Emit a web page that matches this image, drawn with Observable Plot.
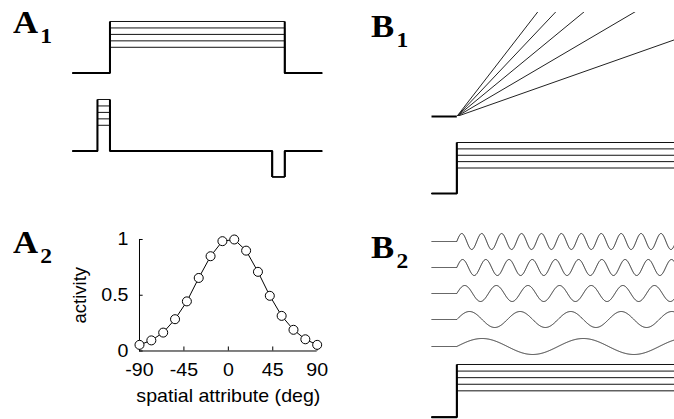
<!DOCTYPE html>
<html><head><meta charset="utf-8">
<script src="https://cdn.jsdelivr.net/npm/d3@7"></script>
<script src="https://cdn.jsdelivr.net/npm/@observablehq/plot@0.6"></script>
<style>
html,body{margin:0;padding:0;background:#fff;overflow:hidden}
#fig{position:relative;width:674px;height:419px;overflow:hidden;background:#fff}
#fig svg{position:absolute;overflow:visible}
.lab{position:absolute;font:bold 31px "Liberation Serif","Times New Roman",serif;line-height:31px;transform:scaleX(1.12);transform-origin:0 0;color:#000;white-space:nowrap}
.lab span{font-size:21px;position:relative;top:10px;margin-left:2px}
</style></head><body>
<div id="fig">
  <div class="lab" style="left:13px;top:7px">A<span>1</span></div>
  <div class="lab" style="left:371px;top:11px">B<span>1</span></div>
  <div class="lab" style="left:13px;top:227px">A<span>2</span></div>
  <div class="lab" style="left:371px;top:232px">B<span>2</span></div>
</div>
<script>
// ---------------- data ----------------
// input amplitude levels (arbitrary units) used for the stepped inputs
const stepLevels = [4, 5, 6, 7, 8];
// A1 sustained input: start, onset, offset, end (ms)
const a1Sustained = [0, 150, 850, 1000];
// A1 transient input: start, on-burst start, on-burst end, off-dip start, off-dip end, end (ms)
const a1Transient = [0, 100, 150, 800, 850, 1000];
const a1OffDip = -4;
// A2 tuning curve
const angles   = [-90, -78, -66, -54, -42, -30, -18, -6, 6, 18, 30, 42, 54, 66, 78, 90];
const activity = [0.055, 0.095, 0.165, 0.285, 0.445, 0.655, 0.85, 0.985, 1.0, 0.9, 0.71, 0.495, 0.315, 0.19, 0.105, 0.055];
const xTicks = [-90, -45, 0, 45, 90];
const yTicks = [0, 0.5, 1];
// B panels: start, onset, end (ms)
const bTimes = [0, 100, 1000];
// B1 ramp rates (units / s)
const rampRates = [3, 5, 7, 9, 11];
// B2 oscillation frequencies (Hz), top to bottom
const waveFreqs = [12.7, 10.9, 8, 5, 2.5];

// ---------------- helpers ----------------
const fig = document.getElementById("fig");
const INK = "#111";
function panel(px, py, xd, yd, marks) {
  // px: [left, right] pixels for xd; py: [bottom, top] pixels for yd
  const width = px[1] - px[0], height = py[0] - py[1];
  const svg = Plot.plot({
    width, height, margin: 0,
    x: {domain: xd, range: [0, width], axis: null},
    y: {domain: yd, range: [height, 0], axis: null},
    style: {background: "none", overflow: "visible"},
    marks
  });
  svg.style.left = px[0] + "px";
  svg.style.top = py[1] + "px";
  fig.append(svg);
  return svg;
}
const toRows = (pts, key, k) => pts.map(([t, v]) => ({t, v, [key]: k}));
const lineOpts = (z, w, extra = {}) => ({x: "t", y: "v", z, stroke: INK, strokeWidth: w, strokeLinejoin: "miter", strokeLinecap: "butt", ...extra});
const Lmax = d3.max(stepLevels);

// ---------------- A1 top: sustained steps ----------------
{
  const [s0, on, off, end] = a1Sustained;
  const lines = stepLevels.flatMap(L => toRows([[s0,0],[on,0],[on,L],[off,L],[off,0],[end,0]], "L", L));
  const env = [[[s0,0],[on,0],[on,Lmax]], [[off,Lmax],[off,0],[end,0]]].flatMap((s,i) => toRows(s, "L", i));
  panel([72, 321.7], [72.3, 20.7], [0, 1000], [0, 8], [
    Plot.line(lines, lineOpts("L", 1)),
    Plot.line(env, lineOpts("L", 2, {stroke: "#000"}))
  ]);
}
// ---------------- A1 bottom: transient input ----------------
{
  const [s0, p0, p1, d0, d1, end] = a1Transient;
  const lines = stepLevels.flatMap(L => toRows([[s0,0],[p0,0],[p0,L],[p1,L],[p1,0],[d0,0],[d0,a1OffDip],[d1,a1OffDip],[d1,0],[end,0]], "L", L));
  const env = [[[s0,0],[p0,0],[p0,Lmax]], [[p1,Lmax],[p1,0],[d0,0],[d0,a1OffDip]], [[d1,a1OffDip],[d1,0],[end,0]]].flatMap((s,i) => toRows(s, "L", i));
  panel([72, 321.7], [151, 99.4], [0, 1000], [0, 8], [
    Plot.line(lines, lineOpts("L", 1)),
    Plot.line(env, lineOpts("L", 2, {stroke: "#000"}))
  ]);
}
// ---------------- A2: tuning curve ----------------
{
  const pts = angles.map((a, i) => ({a, v: activity[i]}));
  const fx = [139, 316.7], fy = [350.5, 239];
  const ml = 75, mr = 15, mt = 12, mb = 58;
  const svg = Plot.plot({
    width: ml + fx[1] - fx[0] + mr, height: mt + fy[0] - fy[1] + mb,
    marginLeft: ml, marginRight: mr, marginTop: mt, marginBottom: mb,
    x: {domain: [xTicks[0], xTicks.at(-1)]},
    y: {domain: [yTicks[0], yTicks.at(-1)]},
    style: {background: "none", overflow: "visible", fontFamily: "'Liberation Sans', Arial, sans-serif", fontSize: "17.5px", color: "#000"},
    marks: [
      Plot.ruleX([xTicks[0]], {y1: yTicks[0], y2: yTicks.at(-1), stroke: "#000", strokeWidth: 1}),
      Plot.ruleY([yTicks[0]], {x1: xTicks[0], x2: xTicks.at(-1), stroke: "#000", strokeWidth: 1}),
      Plot.ruleX(xTicks, {y1: 0, y2: 0.036, stroke: "#000", strokeWidth: 1}),
      Plot.ruleY(yTicks, {x1: -90, x2: -86.3, stroke: "#000", strokeWidth: 1}),
      Plot.axisX({ticks: xTicks, tickFormat: String, tickSize: 0, tickPadding: 12.5, fontSize: 17.5,
        label: "spatial attribute (deg)", labelAnchor: "center", labelArrow: "none", labelOffset: 51}),
      Plot.axisY({ticks: yTicks, tickFormat: String, tickSize: 0, tickPadding: 11, fontSize: 17.5,
        label: "activity", labelAnchor: "center", labelArrow: "none", labelOffset: 66}),
      Plot.line(pts, {x: "a", y: "v", stroke: "#000", strokeWidth: 1}),
      Plot.dot(pts, {x: "a", y: "v", r: 4.5, fill: "#fff", stroke: "#000", strokeWidth: 1})
    ]
  });
  svg.style.left = (fx[0] - ml) + "px";
  svg.style.top = (fy[1] - mt) + "px";
  fig.append(svg);
  svg.querySelectorAll("text").forEach(t => {
    const isRot = (t.getAttribute("transform") || "").includes("rotate");
    const len = t.getComputedTextLength();
    if (len > 0) {
      t.setAttribute("textLength", len * (isRot ? 1.06 : 1.12));
      t.setAttribute("lengthAdjust", "spacingAndGlyphs");
    }
  });
}
// ---------------- B1 top: ramps ----------------
{
  const [s0, on, end] = bTimes;
  const ramps = rampRates.flatMap(r => toRows([[on,0],[end, r * (end - on) / 1000]], "r", r));
  const base = toRows([[s0,0],[on,0]], "r", 0);
  panel([431, 684], [115.7, 11.7], [0, 1000], [0, 3.5], [
    Plot.line(ramps, lineOpts("r", 1, {stroke: "#222", clip: true})),
    Plot.line(base, lineOpts("r", 2, {stroke: "#000"}))
  ]);
}
// ---------------- B1 bottom & B2 bottom: steps ----------------
function bSteps(py) {
  const [s0, on, end] = bTimes;
  const lines = stepLevels.flatMap(L => toRows([[s0,0],[on,0],[on,L],[end,L]], "L", L));
  const env = toRows([[s0,0],[on,0],[on,Lmax]], "L", 0);
  panel([431, 684], py, [0, 1000], [0, 8], [
    Plot.line(lines, lineOpts("L", 1)),
    Plot.line(env, lineOpts("L", 2, {stroke: "#000"}))
  ]);
}
bSteps([193.3, 142.3]);
bSteps([416.7, 364]);
// ---------------- B2: oscillations ----------------
{
  const [s0, on, end] = bTimes;
  const ts = d3.range(s0, end + 1, 1);
  waveFreqs.forEach((f, i) => {
    const c = 240.7 + i * 26.2;
    const rows = ts.map(t => ({t, v: t < on ? 0 : Math.sin(2 * Math.PI * f * (t - on) / 1000), f}));
    panel([431, 684], [c + 8, c - 8], [0, 1000], [-1, 1], [
      Plot.line(rows, lineOpts("f", 1, {stroke: "#222", strokeLinejoin: "round"}))
    ]);
  });
}
</script>
</body></html>
